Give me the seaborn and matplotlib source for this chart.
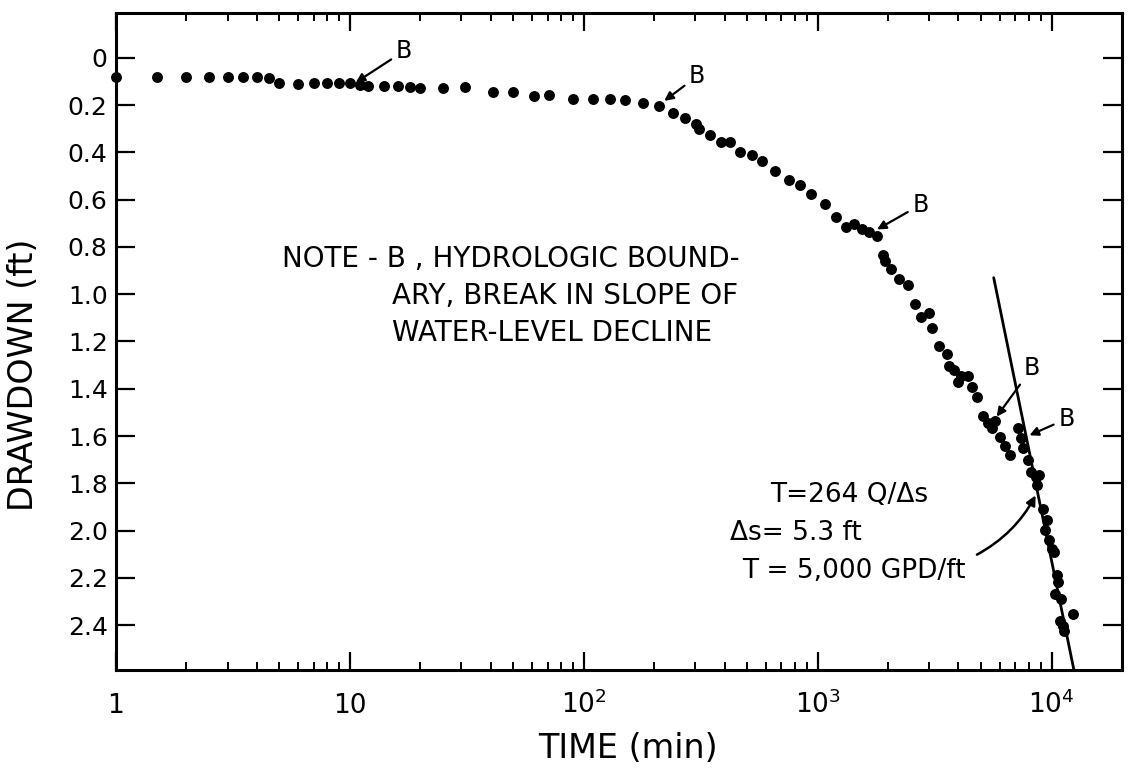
import numpy as np
import pandas as pd
import matplotlib
matplotlib.use("Agg")
import matplotlib.pyplot as plt
import seaborn as sns
from matplotlib.ticker import NullFormatter, LogLocator

# drawdown readings (time in minutes, drawdown in feet)
time_min = [1.0, 1.5, 2.0, 2.5, 3.0, 3.5, 4.0, 4.5, 5.0, 6.0, 7.0, 8.0, 9.0, 10, 11, 12, 14, 16, 18, 20,
            25, 31, 41, 50, 61, 71, 90, 110, 130, 150, 180, 210, 241, 271, 302, 311, 347, 386, 422, 465,
            523, 577, 655, 751, 844, 940, 1077, 1199, 1325, 1433, 1550, 1660, 1795, 1900, 1937, 2052,
            2239, 2443, 2614, 2772, 2997, 3083, 3296, 3562, 3662, 3811, 3999, 4119, 4409, 4584, 4808,
            5105, 5370, 5546, 5729, 6008, 6300, 6675, 7192, 7381, 7541, 7909, 8170, 8576, 8853, 8705,
            9210, 9572, 9412, 9709, 10030, 10200, 10520, 10680, 10330, 11010, 12330, 10820, 11170, 11350]
drawdown_ft = [0.081, 0.083, 0.079, 0.079, 0.079, 0.080, 0.083, 0.086, 0.107, 0.112, 0.108, 0.106, 0.107,
               0.107, 0.114, 0.120, 0.121, 0.118, 0.123, 0.126, 0.127, 0.123, 0.146, 0.143, 0.160, 0.155,
               0.174, 0.175, 0.175, 0.179, 0.189, 0.205, 0.233, 0.256, 0.279, 0.301, 0.325, 0.358, 0.358,
               0.400, 0.413, 0.435, 0.479, 0.518, 0.537, 0.575, 0.618, 0.674, 0.717, 0.703, 0.724, 0.738,
               0.754, 0.836, 0.860, 0.892, 0.935, 0.963, 1.040, 1.097, 1.079, 1.143, 1.221, 1.252, 1.303,
               1.320, 1.372, 1.344, 1.344, 1.393, 1.433, 1.516, 1.545, 1.566, 1.538, 1.606, 1.644, 1.680,
               1.567, 1.609, 1.652, 1.701, 1.751, 1.773, 1.765, 1.808, 1.907, 1.957, 1.999, 2.041, 2.077,
               2.091, 2.190, 2.218, 2.268, 2.289, 2.353, 2.381, 2.402, 2.423]

# straight line fitted to the late data
fit_time = [5660, 12470]
fit_drawdown = [0.93, 2.59]

# "B" boundary labels and the points their arrows touch
b_label_time = [17, 305, 2750, 8250, 11570]
b_label_dd = [-0.028, 0.078, 0.622, 1.313, 1.528]
b_point_time = [10.6, 221, 1795, 5830, 8050]
b_point_dd = [0.104, 0.182, 0.726, 1.518, 1.597]

y_ticks = [0, 0.2, 0.4, 0.6, 0.8, 1.0, 1.2, 1.4, 1.6, 1.8, 2.0, 2.2, 2.4]
y_tick_labels = ["0", "0.2", "0.4", "0.6", "0.8", "1.0", "1.2", "1.4", "1.6", "1.8", "2.0", "2.2", "2.4"]
x_ticks = [1, 10, 100, 1000, 10000]
x_tick_labels = ["1", "10", "$10^2$", "$10^3$", "$10^4$"]

sns.set_style("ticks")
plt.rcParams["font.family"] = ["DejaVu Sans"]
plt.rcParams["mathtext.default"] = "regular"
for k in ["text.color", "axes.labelcolor", "xtick.color", "ytick.color", "axes.edgecolor"]:
    plt.rcParams[k] = "black"

fig = plt.figure(figsize=(11.28, 7.68), dpi=100)
ax = fig.add_axes([0.1028, 0.1276, 0.8918, 0.8555])

df = pd.DataFrame({"time": time_min, "drawdown": drawdown_ft})
sns.scatterplot(data=df, x="time", y="drawdown", color="black", s=62, linewidth=0,
                ax=ax, zorder=3, clip_on=False, legend=False)
ax.plot(fit_time, fit_drawdown, color="black", lw=2.0)

ax.set_xscale("log")
ax.set_xlim(1, 2.0e4)
ax.set_ylim(2.59, -0.19)

# ticks
ax.set_yticks(y_ticks, y_tick_labels)
ax.set_xticks(x_ticks, x_tick_labels)
ax.xaxis.set_minor_locator(LogLocator(base=10, subs=np.arange(2, 10)))
ax.xaxis.set_minor_formatter(NullFormatter())
ax.tick_params(axis="both", which="both", direction="in", top=True, right=True, color="black")
ax.tick_params(axis="y", which="major", length=14, width=1.6, labelsize=18, pad=6)
ax.tick_params(axis="x", which="major", length=13, width=1.6, labelsize=19, pad=31)
ax.tick_params(axis="x", which="minor", length=6, width=1.4)
for lab in ax.get_xticklabels():
    lab.set_va("baseline")
for sp in ax.spines.values():
    sp.set_linewidth(2.2)

ax.set_xlabel("TIME (min)", fontsize=24)
ax.set_ylabel("DRAWDOWN (ft)", fontsize=24)
ax.xaxis.set_label_coords(0.509, -0.095)
ax.yaxis.set_label_coords(-0.0755, 0.45)

# B arrows
for tt, td, pt, pd_ in zip(b_label_time, b_label_dd, b_point_time, b_point_dd):
    ax.annotate("B", xy=(pt, pd_), xytext=(tt, td), ha="center", va="center", fontsize=17,
                arrowprops=dict(arrowstyle="-|>", color="black", lw=1.6,
                                mutation_scale=13, shrinkA=1, shrinkB=0))

# note
ax.text(0.165, 0.613, "NOTE - B , HYDROLOGIC BOUND-", transform=ax.transAxes, fontsize=20)
ax.text(0.274, 0.557, "ARY, BREAK IN SLOPE OF", transform=ax.transAxes, fontsize=20)
ax.text(0.274, 0.500, "WATER-LEVEL DECLINE", transform=ax.transAxes, fontsize=20)

# transmissivity calc
ax.text(0.807, 0.256, "T=264 Q/\u0394s", transform=ax.transAxes, fontsize=19, ha="right")
ax.text(0.610, 0.198, "\u0394s= 5.3 ft", transform=ax.transAxes, fontsize=19)
ax.text(0.622, 0.140, "T = 5,000 GPD/ft", transform=ax.transAxes, fontsize=19)
ax.annotate("", xy=(8550, 1.851), xytext=(4800, 2.102),
            arrowprops=dict(arrowstyle="-|>", color="black", lw=1.8, mutation_scale=14,
                            connectionstyle="arc3,rad=0.15", shrinkA=0, shrinkB=0))

fig.savefig("out.png", dpi=100, facecolor="white")
